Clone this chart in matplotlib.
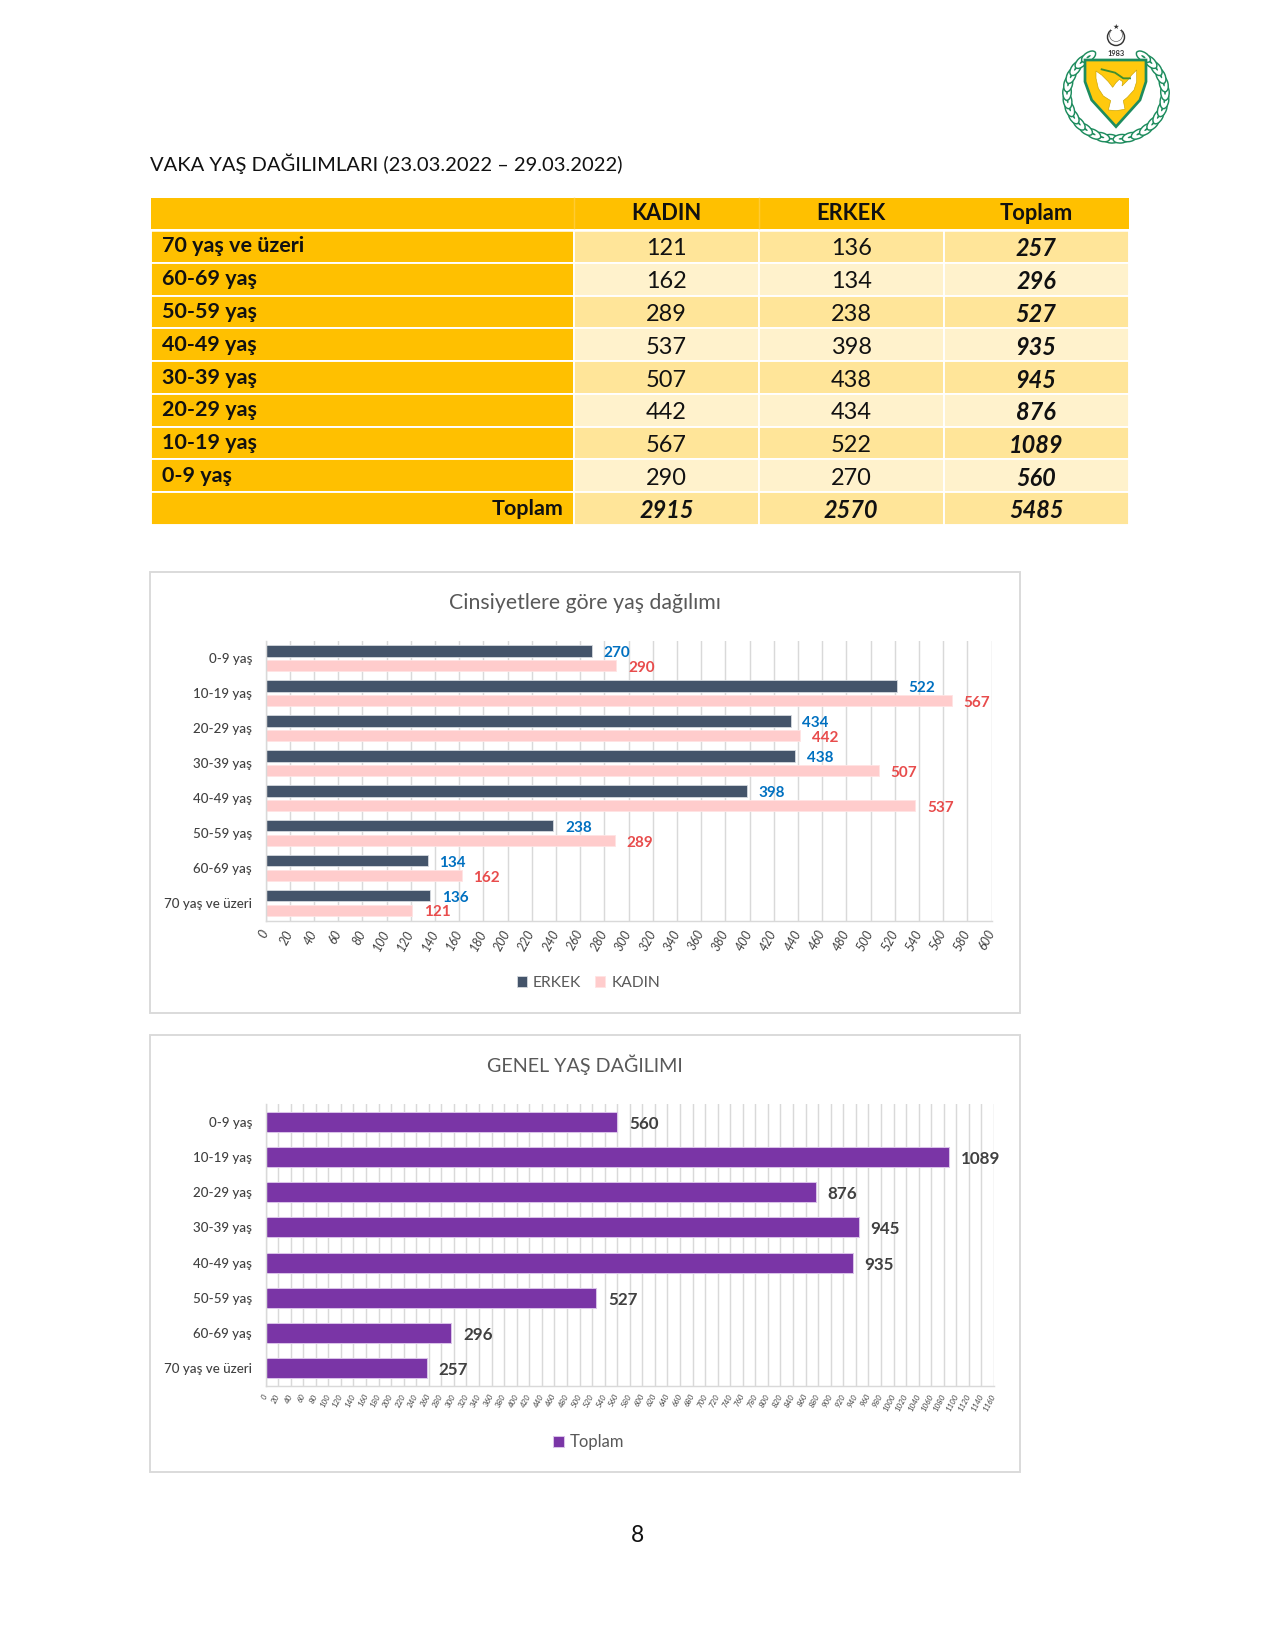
import numpy as np
import matplotlib
matplotlib.use('Agg')
import matplotlib.pyplot as plt
from matplotlib.patches import Rectangle, Polygon, Ellipse, Circle
from matplotlib.transforms import ScaledTranslation

plt.rcParams['font.family'] = ['Lato', 'DejaVu Sans']

W, H = 1275, 1650

# data, youngest group first (same order as the charts)
ages = ['0-9 yaş', '10-19 yaş', '20-29 yaş', '30-39 yaş', '40-49 yaş', '50-59 yaş', '60-69 yaş', '70 yaş ve üzeri']
kadin = [290, 567, 442, 507, 537, 289, 162, 121]
erkek = [270, 522, 434, 438, 398, 238, 134, 136]
toplam = [560, 1089, 876, 945, 935, 527, 296, 257]
kadin_total = 2915
erkek_total = 2570
genel_total = 5485
table_header = ['KADIN', 'ERKEK', 'Toplam']
ticks_gender = list(range(0, 601, 20))
ticks_general = list(range(0, 1161, 20))

ORANGE = '#FFC000'
BAND_DARK = '#FFE599'
BAND_LIGHT = '#FFF2CC'
NAVY = '#44546A'
PINK = '#FFCCCC'
PURPLE = '#7A35A6'
GREY = '#595959'
GRID = '#D9D9D9'
GREEN = '#1E8C5E'


def px_axes(fig, left, top, right, bottom):
    return fig.add_axes([left / W, 1 - bottom / H, (right - left) / W, (bottom - top) / H])


def logo_pts(pts):
    return [[1040 + x / 3, 10 + y / 3] for x, y in pts]


fig = plt.figure(figsize=(8.5, 11), dpi=150)
bg = fig.add_axes([0, 0, 1, 1])
bg.set_xlim(0, W)
bg.set_ylim(H, 0)
bg.axis('off')

bg.text(150, 164, 'VAKA YAŞ DAĞILIMLARI (23.03.2022 – 29.03.2022)', fontsize=9.65, color='#111111', va='center')
bg.text(637.5, 1536, '8', fontsize=11, color='#111111', ha='center', va='center')

# table
col_x = [150.5, 574, 759, 943.5, 1128.5]
row_y = [198, 229.7, 262.8, 295.9, 328.3, 361.4, 393.8, 426.9, 459.3, 492.4, 524.8]


def cell(col, row, color):
    bg.add_patch(Rectangle((col_x[col], row_y[row]), col_x[col + 1] - col_x[col], row_y[row + 1] - row_y[row],
                           facecolor=color, edgecolor='white', linewidth=0.9))


bg.add_patch(Rectangle((col_x[0], row_y[0]), col_x[4] - col_x[0], row_y[1] - row_y[0], facecolor=ORANGE, edgecolor='none'))
for c in [1, 2]:
    bg.plot([col_x[c], col_x[c]], [row_y[0], row_y[1]], color='#FFCB33', lw=0.7)
bg.plot([col_x[0], col_x[4]], [row_y[1], row_y[1]], color='white', lw=1.2)
for c, name in enumerate(table_header):
    bg.text((col_x[c + 1] + col_x[c + 2]) / 2, 214, name, fontsize=10.5, fontweight='bold', color='#111111', ha='center', va='center')

rows = list(zip(ages, kadin, erkek, toplam))[::-1]
for r, (age, k, e, t) in enumerate(rows):
    band = BAND_DARK if r % 2 == 0 else BAND_LIGHT
    cell(0, r + 1, ORANGE)
    for c in range(1, 4):
        cell(c, r + 1, band)
    cy = (row_y[r + 1] + row_y[r + 2]) / 2
    bg.text(162, cy, age, fontsize=10.3, fontweight='bold', color='#111111', va='center')
    for c, v in enumerate([k, e]):
        bg.text((col_x[c + 1] + col_x[c + 2]) / 2, cy + 2.5, str(v), fontsize=11.3, color='#111111', ha='center', va='center')
    bg.text((col_x[3] + col_x[4]) / 2, cy + 2.5, str(t), fontsize=11.3, fontweight='bold', fontstyle='italic', color='#111111', ha='center', va='center')

for c in range(4):
    cell(c, 9, ORANGE if c == 0 else BAND_DARK)
cy = (row_y[9] + row_y[10]) / 2
bg.text(563, cy, 'Toplam', fontsize=10.3, fontweight='bold', color='#111111', ha='right', va='center')
for c, v in enumerate([kadin_total, erkek_total, genel_total]):
    bg.text((col_x[c + 1] + col_x[c + 2]) / 2, cy + 2, str(v), fontsize=11.3, fontweight='bold', fontstyle='italic', color='#111111', ha='center', va='center')

# logo, drawn in page pixels
cx_logo = 1116
for side in [-1, 1]:
    for a in np.linspace(-84, 56, 14):
        t = np.radians(a)
        lx = cx_logo + side * 49 * np.cos(t)
        ly = 94 - 45 * np.sin(t)
        rot = side * (a + 90) * -1
        bg.add_patch(Ellipse((lx, ly), 16, 8.5, angle=rot, facecolor='white', edgecolor=GREEN, linewidth=0.7))
        bg.add_patch(Ellipse((lx, ly), 5, 1.8, angle=rot, facecolor=GREEN, edgecolor='none'))
shield = [(135, 150), (318, 150), (318, 215), (300, 270), (228, 350), (155, 270), (135, 215)]
dove = [(168, 183), (185, 195), (205, 215), (218, 232), (228, 218), (238, 208), (248, 215), (246, 228), (262, 212),
        (275, 195), (290, 180), (290, 215), (282, 240), (262, 262), (250, 272), (255, 298), (228, 302), (205, 300),
        (212, 272), (190, 258), (175, 235), (168, 205)]
bg.add_patch(Polygon(logo_pts(shield), closed=True, facecolor='#FFC90E', edgecolor=GREEN, linewidth=1.3))
bg.add_patch(Polygon(logo_pts(dove), closed=True, facecolor='white', edgecolor='#C9A400', linewidth=0.3))
branch = np.array(logo_pts([(185, 178), (225, 188), (250, 205), (270, 205)]))
bg.plot(branch[:, 0], branch[:, 1], color='#3F8F2F', lw=0.9)
bg.add_patch(Circle((1116, 37), 8.5, facecolor='white', edgecolor='#333333', linewidth=0.7))
bg.add_patch(Circle((1116, 35), 6.5, facecolor='white', edgecolor='#555555', linewidth=0.3))
bg.add_patch(Rectangle((1111, 27), 10, 3, facecolor='white', edgecolor='none'))
bg.text(1116, 27, '★', fontsize=3.5, color='#333333', ha='center', va='center', family=['DejaVu Sans'])
bg.text(1116, 53, '1983', fontsize=3.6, fontweight='bold', color='#333333', ha='center', va='center')

# chart frames
bg.add_patch(Rectangle((150, 572), 869.5, 441, facecolor='white', edgecolor=GRID, linewidth=0.9))
bg.add_patch(Rectangle((150, 1035), 869.5, 437, facecolor='white', edgecolor=GRID, linewidth=0.9))
bg.text(585, 603, 'Cinsiyetlere göre yaş dağılımı', fontsize=10.2, color=GREY, ha='center', va='center')
bg.text(585, 1065, 'GENEL YAŞ DAĞILIMI', fontsize=9.5, color=GREY, ha='center', va='center')


def style_axes(ax, ticks, tick_size, pad, shift):
    ax.patch.set_alpha(0)
    ax.set_xlim(ticks[0], ticks[-1])
    ax.set_ylim(len(ages) - 0.5, -0.5)
    ax.set_xticks(ticks)
    ax.set_xticklabels([str(t) for t in ticks], rotation=62, ha='right', va='center', rotation_mode='anchor',
                       fontsize=tick_size, fontstyle='italic', color='#404040')
    for lab in ax.get_xticklabels():
        lab.set_transform(lab.get_transform() + ScaledTranslation(shift / 72, 0, fig.dpi_scale_trans))
    ax.set_yticks(range(len(ages)))
    ax.set_yticklabels(ages, fontsize=6.4, fontweight='medium', color='#404040')
    ax.tick_params(axis='y', length=0, pad=6.5)
    ax.tick_params(axis='x', length=0, pad=pad)
    ax.grid(axis='x', color=GRID, linewidth=0.7)
    ax.set_axisbelow(True)
    for name in ['top', 'right']:
        ax.spines[name].set_visible(False)
    for name in ['left', 'bottom']:
        ax.spines[name].set_color(GRID)
        ax.spines[name].set_linewidth(0.7)


def value_labels(ax, values, ypos, size, color):
    for v, yv in zip(values, ypos):
        ax.annotate(str(v), (v, yv), xytext=(5.6, -1), textcoords='offset points', va='center',
                    fontsize=size, fontweight='bold', color=color)


# gender chart
ax1 = px_axes(fig, 265.5, 641, 991.5, 920.5)
y = np.arange(len(ages))
ax1.barh(y - 0.21, erkek, height=0.325, color=NAVY, edgecolor='#D5D9DF', linewidth=0.4, label='ERKEK')
ax1.barh(y + 0.21, kadin, height=0.325, color=PINK, edgecolor='#FFE3E3', linewidth=0.4, label='KADIN')
value_labels(ax1, erkek, y - 0.21, 7.3, '#0070C0')
value_labels(ax1, kadin, y + 0.21, 7.3, '#E84C4C')
style_axes(ax1, ticks_gender, 6, 5, 1.2)
ax1.legend(loc='center', bbox_to_anchor=(588.5 / W, 1 - 983 / H), bbox_transform=fig.transFigure, ncol=2, frameon=False,
           fontsize=7.5, labelcolor=GREY, handlelength=0.64, handleheight=0.64, handletextpad=0.4, columnspacing=0.9)

# general chart
ax2 = px_axes(fig, 265.5, 1104, 994, 1386)
ax2.barh(y, toplam, height=0.57, color=PURPLE, edgecolor='#D9C2E8', linewidth=0.5, label='Toplam')
value_labels(ax2, toplam, y, 8.2, '#404040')
style_axes(ax2, ticks_general, 3.8, 4, 0.8)
ax2.legend(loc='center', bbox_to_anchor=(589 / W, 1 - 1442.5 / H), bbox_transform=fig.transFigure, frameon=False,
           fontsize=8, labelcolor=GREY, handlelength=0.62, handleheight=0.62, handletextpad=0.4)

fig.savefig('out.png', dpi=150)
